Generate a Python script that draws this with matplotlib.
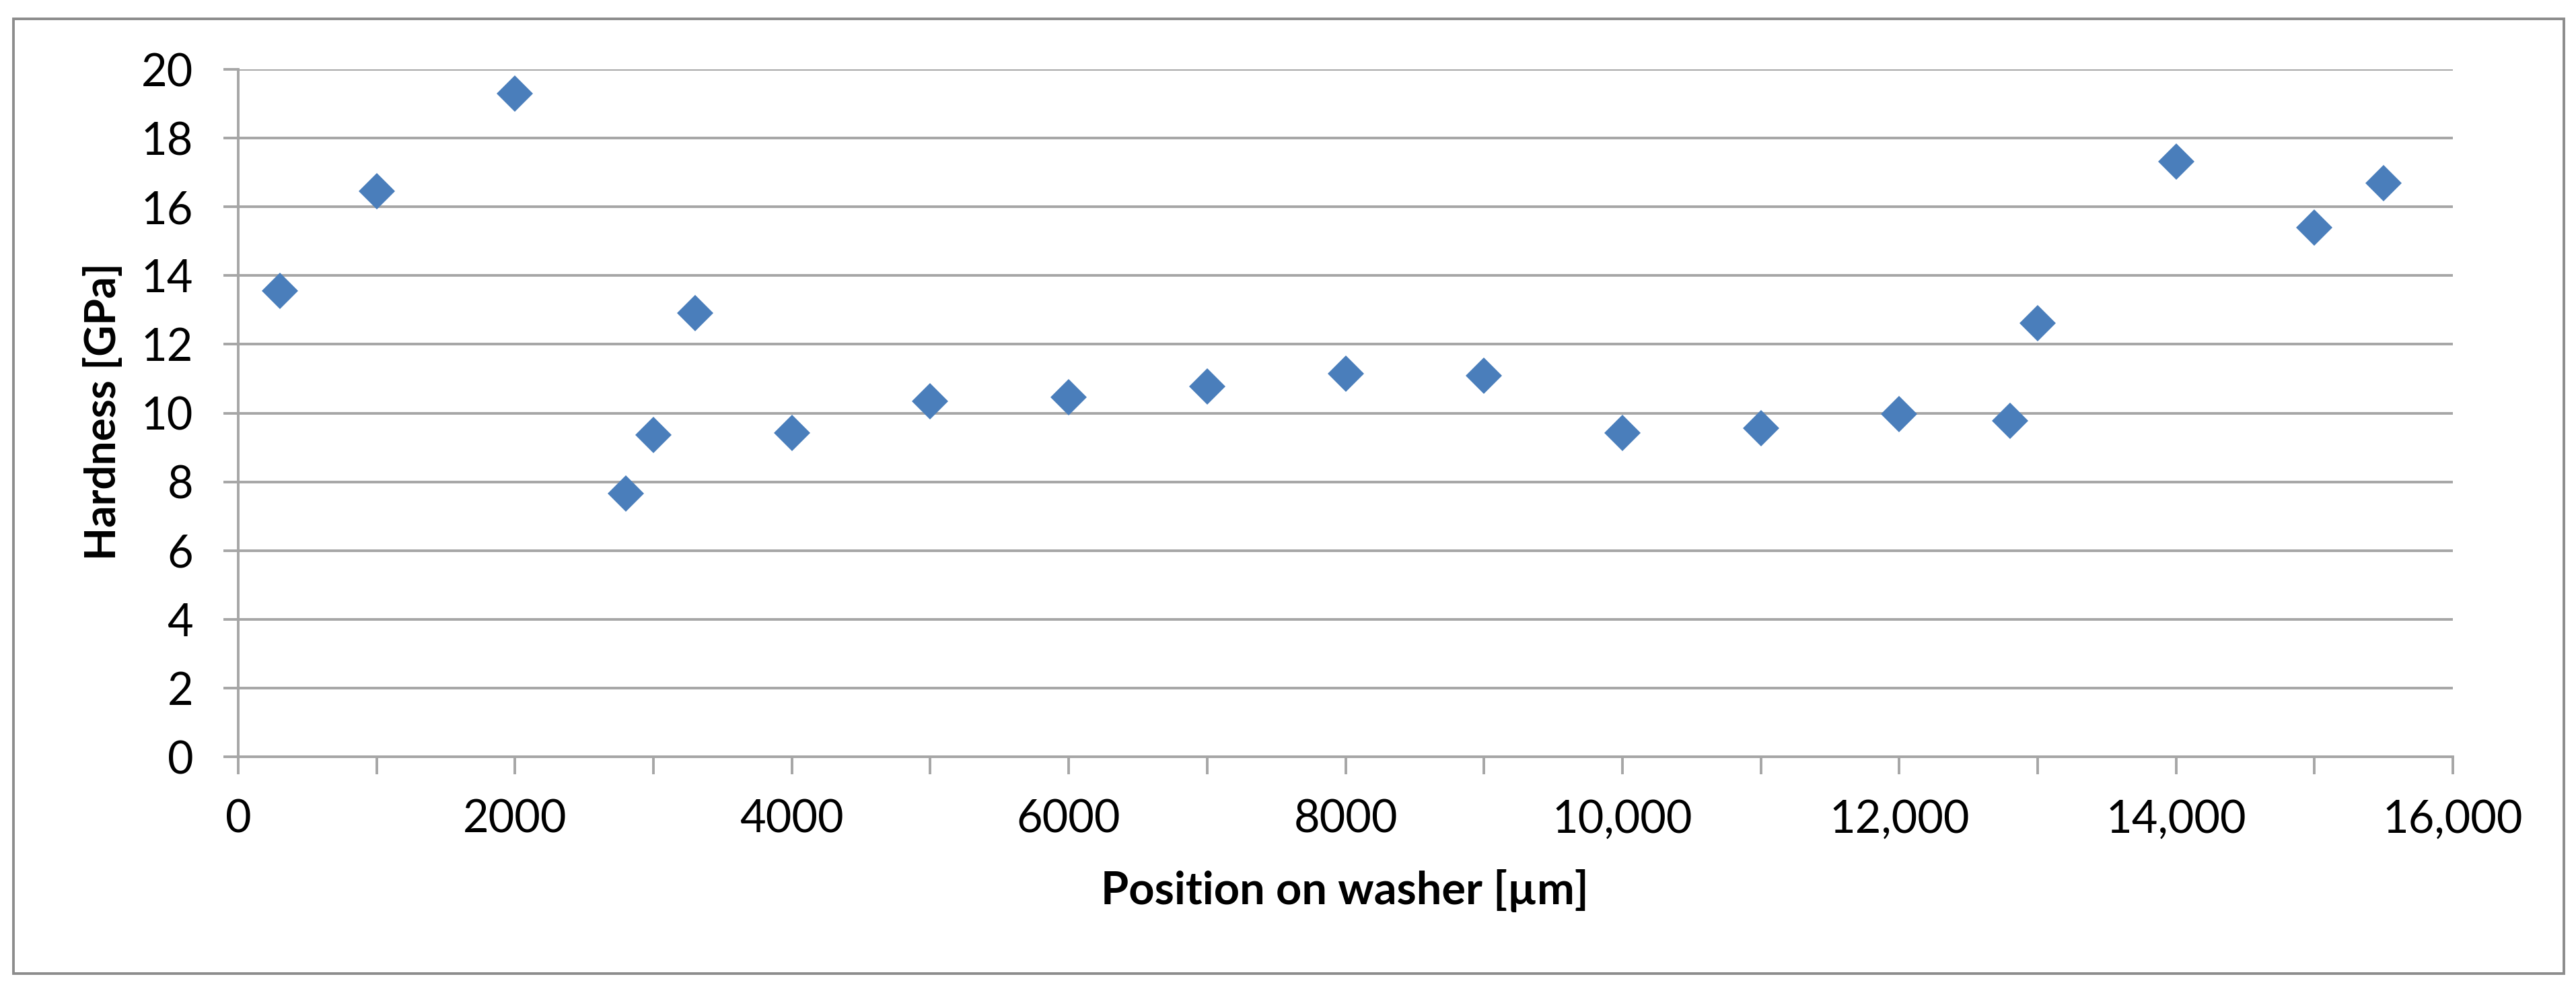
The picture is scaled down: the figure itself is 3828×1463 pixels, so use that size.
import matplotlib.pyplot as plt
from matplotlib.patches import Rectangle

# dane
pozycja_um = [300, 1000, 2000, 2800, 3000, 3300, 4000, 5000, 6000, 7000,
              8000, 9000, 10000, 11000, 12000, 12800, 13000, 14000, 15000, 15500]
twardosc_gpa = [13.55, 16.46, 19.30, 7.65, 9.37, 12.91, 9.42, 10.34, 10.47, 10.78,
                11.14, 11.09, 9.42, 9.55, 9.97, 9.78, 12.62, 17.31, 15.40, 16.69]

x_ticki = [0, 2000, 4000, 6000, 8000, 10000, 12000, 14000, 16000]
x_etykiety = ['0', '2000', '4000', '6000', '8000', '10,000', '12,000', '14,000', '16,000']
y_ticki = [0, 2, 4, 6, 8, 10, 12, 14, 16, 18, 20]

SZARY = '#a6a6a6'
NIEBIESKI = '#4A7EBB'

plt.rcParams['font.family'] = ['Lato', 'DejaVu Sans']

W, H = 3828, 1463
fig = plt.figure(figsize=(W / 100, H / 100), dpi=100)
ax = fig.add_axes([354 / W, 1 - 1124 / H, (3645 - 354) / W, (1124 - 103) / H])

ax.plot(pozycja_um, twardosc_gpa, linestyle='none', marker='D',
        markersize=28, color=NIEBIESKI, markeredgewidth=0)

ax.set_xlim(0, 16000)
ax.set_ylim(0, 20)
ax.set_xticks(x_ticki)
ax.set_xticklabels(x_etykiety)
ax.set_xticks(range(0, 16001, 1000), minor=True)
ax.set_yticks(y_ticki)

ax.grid(True, axis='y', color=SZARY, linewidth=2.8)
ax.set_axisbelow(True)
for s in ['top', 'right']:
    ax.spines[s].set_visible(False)
for s in ['left', 'bottom']:
    ax.spines[s].set_color(SZARY)
    ax.spines[s].set_linewidth(2.8)

ax.tick_params(axis='x', which='both', length=19, width=2.8, color=SZARY,
               pad=26, labelsize=48, labelcolor='black')
ax.tick_params(axis='y', length=16, width=2.8, color=SZARY,
               pad=32, labelsize=48, labelcolor='black')

fig.text(1998 / W, 1 - 1343 / H, 'Position on washer [µm]', fontsize=48,
         fontweight='bold', ha='center', va='baseline')
fig.text(172 / W, 1 - 611 / H, 'Hardness [GPa]', fontsize=46, fontweight='bold',
         rotation=90, rotation_mode='anchor', ha='center', va='baseline')

# ramka wokol calego wykresu
fig.patches.append(Rectangle((20 / W, 1 - 1446 / H), (3810 - 20) / W, (1446 - 28) / H,
                             transform=fig.transFigure, fill=False,
                             edgecolor='#8c8c8c', linewidth=2.8))

fig.savefig('out.png', dpi=100, facecolor='white')
